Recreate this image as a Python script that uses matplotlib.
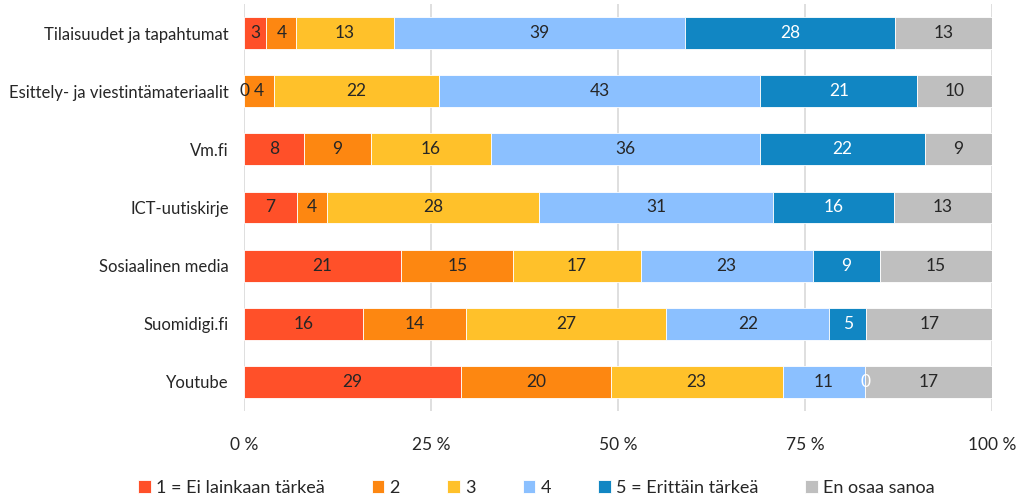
import numpy as np
import matplotlib
matplotlib.use('Agg')
import matplotlib.pyplot as plt

# Kanavat ja vastausten jakaumat (%)
channels = ['Tilaisuudet ja tapahtumat', 'Esittely- ja viestintämateriaalit', 'Vm.fi',
            'ICT-uutiskirje', 'Sosiaalinen media', 'Suomidigi.fi', 'Youtube']
series_names = ['1 = Ei lainkaan tärkeä', '2', '3', '4', '5 = Erittäin tärkeä', 'En osaa sanoa']
v1 = [3, 0, 8, 7, 21, 16, 29]
v2 = [4, 4, 9, 4, 15, 14, 20]
v3 = [13, 22, 16, 28, 17, 27, 23]
v4 = [39, 43, 36, 31, 23, 22, 11]
v5 = [28, 21, 22, 16, 9, 5, 0]
v_eos = [13, 10, 9, 13, 15, 17, 17]
x_ticks = [0, 25, 50, 75, 100]
x_ticklabels = ['0 %', '25 %', '50 %', '75 %', '100 %']

colors = ['#FF5029', '#FD8711', '#FFC12A', '#8BC0FF', '#1186C3', '#BFBFBF']
text_colors = ['#262626', '#262626', '#262626', '#262626', 'white', '#262626']

plt.rcParams['font.family'] = ['Lato', 'DejaVu Sans']

data = np.array([v1, v2, v3, v4, v5, v_eos], dtype=float)
shares = data / data.sum(axis=0) * 100

fig = plt.figure(figsize=(10.18, 4.97), dpi=100)
ax = fig.add_axes([0.2397, 0.173, 0.735, 0.819])

y = np.arange(len(channels))
left = np.zeros(len(channels))
for i, name in enumerate(series_names):
    ax.barh(y, shares[i], left=left, height=0.55, color=colors[i],
            edgecolor='white', linewidth=0.6, label=name, zorder=3)
    for j in range(len(channels)):
        ax.text(left[j] + shares[i][j] / 2, y[j], f'{int(data[i][j])}',
                ha='center', va='center', fontsize=12.5, color=text_colors[i], zorder=4)
    left += shares[i]

ax.set_xlim(0, 100)
ax.set_ylim(6.5, -0.5)
ax.set_yticks(y)
ax.set_yticklabels(channels, fontsize=12, color='#262626')
ax.set_xticks(x_ticks)
ax.set_xticklabels(x_ticklabels, fontsize=12.5, color='#262626')
ax.tick_params(axis='both', length=0)
ax.tick_params(axis='x', pad=19)
ax.tick_params(axis='y', pad=11)
ax.grid(axis='x', color='#D9D9D9', linewidth=1.2, zorder=0)
for s in ax.spines.values():
    s.set_visible(False)

fig.legend(loc='lower center', bbox_to_anchor=(0.527, -0.03), ncol=6, frameon=False,
           fontsize=13, handlelength=0.7, handleheight=0.7, handletextpad=0.3,
           columnspacing=2.6, labelcolor='#262626')

fig.savefig('out.png', dpi=100)
